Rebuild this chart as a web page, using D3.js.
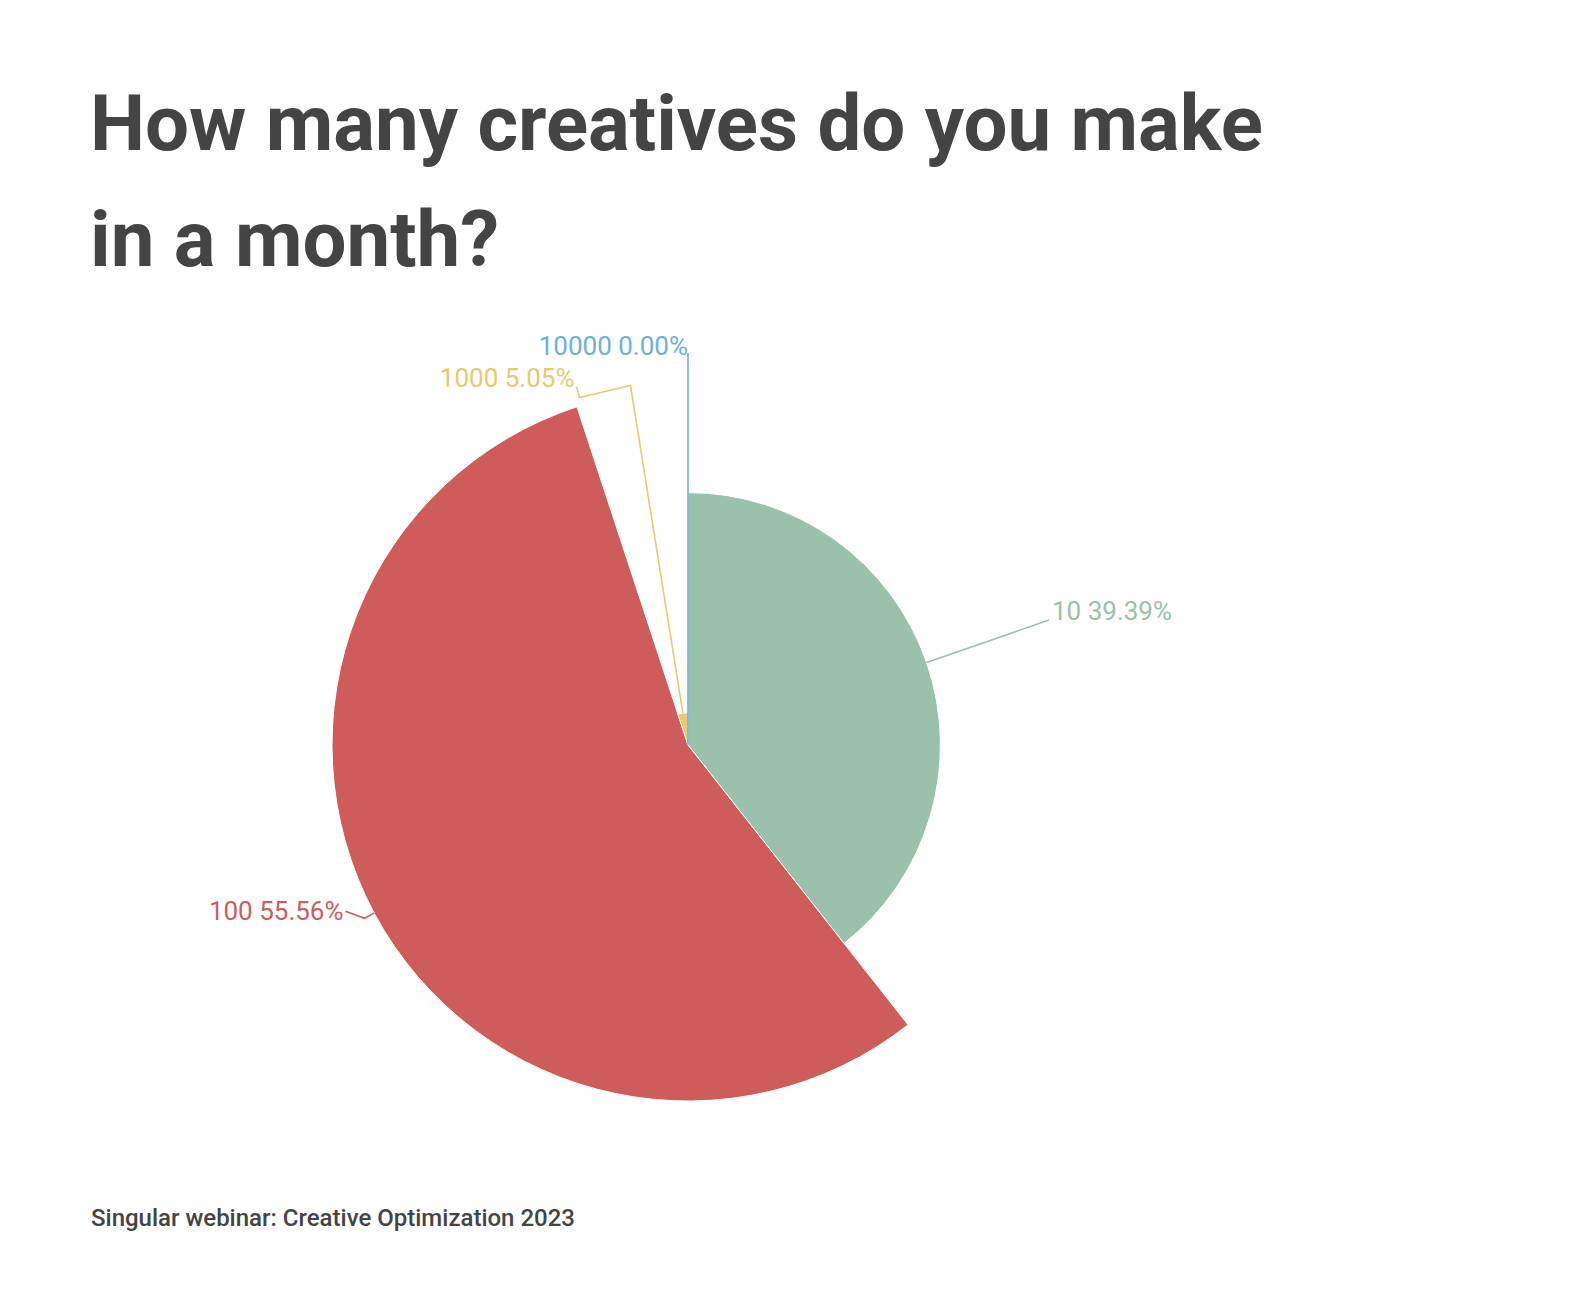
<!DOCTYPE html>
<html><head><meta charset="utf-8">
<script src="https://cdn.jsdelivr.net/npm/d3@7"></script>
<style>
html,body{margin:0;padding:0;background:#fff;}
svg{display:block;}
</style>
</head><body>
<svg id="chart" width="1576" height="1290"></svg>
<script>
// ---- data ----
const categories = ["10", "100", "1000", "10000"];
const counts = [39, 55, 5, 0];
const colors = ["#9AC1AA", "#CD5C5A", "#EBC870", "#6CB0E0"];
const titleLines = ["How many creatives do you make", "in a month?"];
const footer = "Singular webinar: Creative Optimization 2023";

const svg = d3.select("#chart");
const cx = 688, cy = 745, maxR = 356;

// title
const title = svg.append("text").attr("x", 91).attr("fill", "#444")
  .attr("font-family", "Roboto").attr("font-weight", 700).attr("font-size", 78);
titleLines.forEach((t, i) => title.append("tspan").attr("x", 90).attr("y", 150 + i * 116).text(t));

// footer
svg.append("text").attr("x", 91).attr("y", 1226).attr("fill", "#444")
  .attr("font-family", "Roboto").attr("font-weight", 500).attr("font-size", 24).text(footer);

const total = d3.sum(counts);
const data = categories.map((c, i) => ({cat: c, value: counts[i], color: colors[i]}));
const pie = d3.pie().sort(null).value(d => d.value).startAngle(0).endAngle(2 * Math.PI);
const arcsData = pie(data);
const rScale = d3.scaleLinear().domain([0, d3.max(counts)]).range([0, maxR]);
const arc = d3.arc().innerRadius(0).outerRadius(d => rScale(d.data.value));

const g = svg.append("g").attr("transform", `translate(${cx},${cy})`);
g.selectAll("path.slice").data(arcsData).join("path")
  .attr("class", "slice")
  .attr("d", arc)
  .attr("fill", d => d.data.color)
  .attr("stroke", "#fff").attr("stroke-width", 1);

// label layout
const polar = (a, r) => [r * Math.sin(a), -r * Math.cos(a)];
const fmt = d => `${d.data.cat} ${(d.value / total * 100).toFixed(2)}%`;
// per-label relative adjustments (layout for collision avoidance)
const layout = [
  {elbowR: 382, tail: [], anchor: "start", dx: 3, dy: 0, vAlign: "bottom"},
  {elbowR: 367, tail: [[-19, -7]], anchor: "end", dx: -2, dy: 0, vAlign: "middle"},
  {elbowR: 364, tail: [[-51, 12], [-54, 1]], anchor: "end", dx: -2, dy: 0, vAlign: "bottom"},
  {elbowR: 392, tail: [], anchor: "end", dx: 0, dy: 2, vAlign: "bottom"}
];
arcsData.forEach((d, i) => {
  const L = layout[i];
  const mid = d.data.value === 0 ? d.startAngle : (d.startAngle + d.endAngle) / 2;
  const p0 = polar(mid, rScale(d.data.value));
  const p1 = polar(mid, L.elbowR);
  const pts = [p0, p1].concat(L.tail.map(t => [p1[0] + t[0], p1[1] + t[1]]));
  g.append("path").attr("d", d3.line()(pts)).attr("fill", "none")
    .attr("stroke", d.data.color).attr("stroke-width", 1.6);
  const end = pts[pts.length - 1];
  g.append("text")
    .attr("x", end[0] + L.dx).attr("y", end[1] + L.dy)
    .attr("text-anchor", L.anchor)
    .attr("dominant-baseline", L.vAlign === "middle" ? "central" : "alphabetic")
    .attr("font-family", "Roboto").attr("font-size", 26)
    .attr("fill", d.data.color).text(fmt(d));
});
</script>
</body></html>
